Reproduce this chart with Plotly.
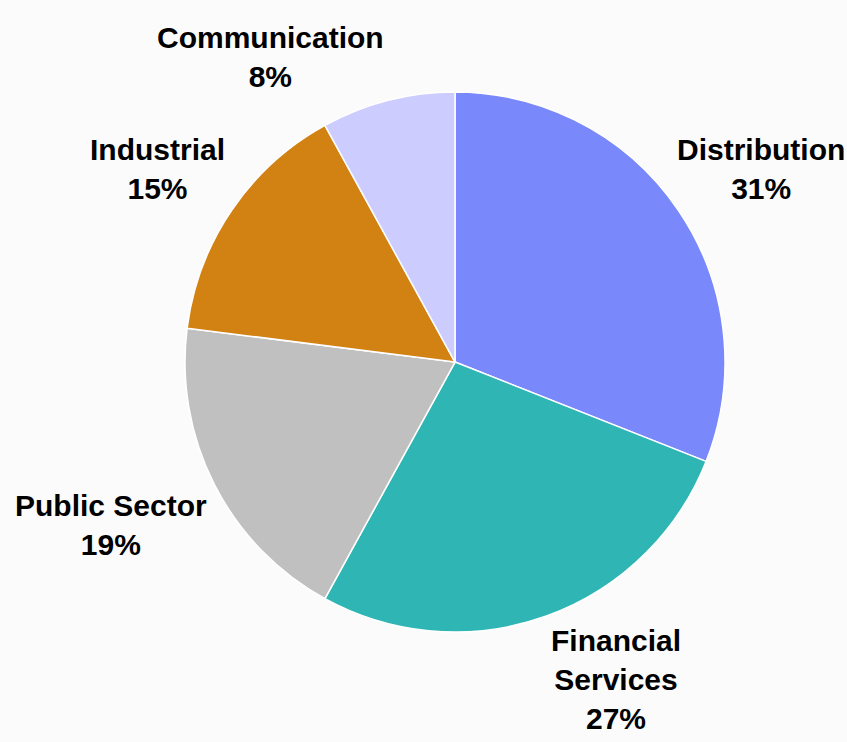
import numpy as np
import plotly.graph_objects as go

# sector shares (%), clockwise from 12 o'clock
sectors = ["Distribution", "Financial<br>Services", "Public Sector", "Industrial", "Communication"]
shares = [31, 27, 19, 15, 8]
colors = ["#7988FB", "#2FB6B4", "#C0C0C0", "#D28213", "#CCCCFE"]

W, H = 847, 742
FONT_SIZE = 30
# pie box in paper fractions (square in pixels so the radius fills it)
dom_x = [0.2184, 0.8560]
dom_y = [0.1482, 0.8760]

# Arial/Liberation Sans Bold advance widths (1/1000 em), to keep labels on the page
glyph_w = {" ": 278, "%": 889, "C": 722, "D": 722, "F": 611, "I": 278, "P": 667,
           "S": 667, "a": 556, "b": 611, "c": 556, "d": 611, "e": 556, "i": 278,
           "l": 278, "m": 889, "n": 611, "o": 611, "r": 389, "s": 556, "t": 333,
           "u": 611, "v": 556}


def text_width(text):
    lines = text.split("<br>")
    return max(sum(glyph_w.get(ch, 556) for ch in ln) for ln in lines) * FONT_SIZE / 1000


fig = go.Figure()
fig.add_trace(go.Pie(
    labels=sectors,
    values=shares,
    sort=False,
    direction="clockwise",
    rotation=0,
    marker=dict(colors=colors, line=dict(color="white", width=1.5)),
    textinfo="none",
    showlegend=False,
    hoverinfo="label+percent",
    domain=dict(x=dom_x, y=dom_y),
))

# outside-end labels: nearest corner of each label sits just beyond the rim,
# along the slice's middle angle
cx = (dom_x[0] + dom_x[1]) / 2 * W
cy = (1 - (dom_y[0] + dom_y[1]) / 2) * H
r = min((dom_x[1] - dom_x[0]) * W, (dom_y[1] - dom_y[0]) * H) / 2
gap = 6
total = sum(shares)
start = 0.0
for name, v in zip(sectors, shares):
    mid = (start + v / 2) / total * 2 * np.pi
    start += v
    dx, dy = np.sin(mid), -np.cos(mid)  # pixel direction, y down
    px_ = cx + (r + gap) * dx
    py_ = cy + (r + gap) * dy
    label = f"{name}<br>{round(v / total * 100)}%"
    w = text_width(label)
    if dx > 0:
        px_ = min(px_, W - w - 4)
    else:
        px_ = max(px_, w + 4)
    fig.add_annotation(
        x=px_ / W, y=1 - py_ / H,
        xref="paper", yref="paper",
        text=label,
        showarrow=False,
        xanchor="left" if dx > 0 else "right",
        yanchor="bottom" if dy < 0 else "top",
        align="center",
        font=dict(family="Liberation Sans, Arial, sans-serif", size=FONT_SIZE,
                  color="black", weight="bold"),
    )

fig.update_layout(
    width=W,
    height=H,
    margin=dict(l=0, r=0, t=0, b=0),
    paper_bgcolor="#fbfbfb",
    plot_bgcolor="#fbfbfb",
    font=dict(family="Liberation Sans, Arial, sans-serif"),
)

# drop the page's default body margin so the figure sits at the top-left
fig.write_html("out.html", config={"displayModeBar": False},
               post_script="document.body.style.margin='0';")
